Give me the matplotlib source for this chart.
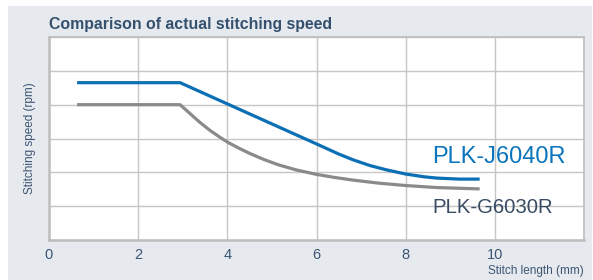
import matplotlib
matplotlib.use("Agg")
import matplotlib.pyplot as plt
from matplotlib.patches import Rectangle

plt.rcParams['font.family'] = ['Liberation Sans', 'DejaVu Sans']

# PLK-J6040R (blue)
j_len = [0.63, 2.94, 6.1, 6.5, 6.82, 7.2, 7.58, 8.0, 8.4, 8.7, 9.2, 9.66]
j_speed = [4.65, 4.65, 2.78, 2.54, 2.37, 2.2, 2.07, 1.95, 1.87, 1.83, 1.80, 1.80]

# PLK-G6030R (gray)
g_len = [0.63, 2.94, 3.05, 3.16, 3.39, 3.61, 3.83, 4.02, 4.28, 4.5, 4.8, 5.15,
         5.55, 6.0, 6.4, 6.82, 7.4, 8.0, 8.7, 9.66]
g_speed = [4.0, 4.0, 3.87, 3.74, 3.47, 3.24, 3.04, 2.88, 2.70, 2.56, 2.39, 2.22,
           2.07, 1.94, 1.85, 1.77, 1.68, 1.61, 1.55, 1.51]

x_ticks = [0, 2, 4, 6, 8, 10, 12]
x_labels = ['0', '2', '4', '6', '8', '10', '']

W, H = 593, 280
fig = plt.figure(figsize=(W / 100, H / 100), dpi=100)
fig.patch.set_facecolor('white')
fig.add_artist(Rectangle((8 / W, 0), (592 - 8) / W, (H - 6) / H,
                         transform=fig.transFigure, facecolor='#e6eaee',
                         edgecolor='none', zorder=-10))

ax = fig.add_axes([49 / W, 40 / H, 535 / W, 203 / H])
ax.set_facecolor('white')
ax.set_xlim(0, 12)
ax.set_ylim(0, 6)
ax.set_xticks(x_ticks)
ax.set_xticklabels(x_labels)
ax.set_yticks(range(0, 7))
ax.set_yticklabels([])
ax.grid(True, color='#c6c6c6', linewidth=1)
ax.set_axisbelow(True)
ax.tick_params(length=0, pad=6, labelsize=10.5, labelcolor='#3b5573')
for s in ax.spines.values():
    s.set_color('#bdbdbd')
    s.set_linewidth(1.2)
ax.spines['left'].set_linewidth(1.8)
ax.spines['bottom'].set_linewidth(1.8)

ax.plot(g_len, g_speed, color='#8a8a8a', linewidth=2.3, solid_capstyle='butt',
        solid_joinstyle='round')
ax.plot(j_len, j_speed, color='#0a6fb5', linewidth=2.3, solid_capstyle='butt',
        solid_joinstyle='round')

ax.text(8.6, (240 - 156.7) / 33.8, 'PLK-J6040R', color='#0a74bd', fontsize=17,
        va='center', ha='left')
ax.text(8.6, (240 - 207.7) / 33.8, 'PLK-G6030R', color='#3a4c63', fontsize=14.7,
        va='center', ha='left')

fig.text(49 / W, 1 - 24 / H, 'Comparison of actual stitching speed', fontsize=11.4,
         fontweight='bold', color='#34506e', va='center', ha='left')
fig.text(30 / W, 1 - 138 / H, 'Stitching speed (rpm)', fontsize=8.5, rotation=90,
         color='#3b5573', va='center', ha='center')
fig.text(584 / W, 1 - 271 / H, 'Stitch length (mm)', fontsize=8.5,
         color='#3b5573', va='center', ha='right')

fig.savefig('out.png', dpi=100)
